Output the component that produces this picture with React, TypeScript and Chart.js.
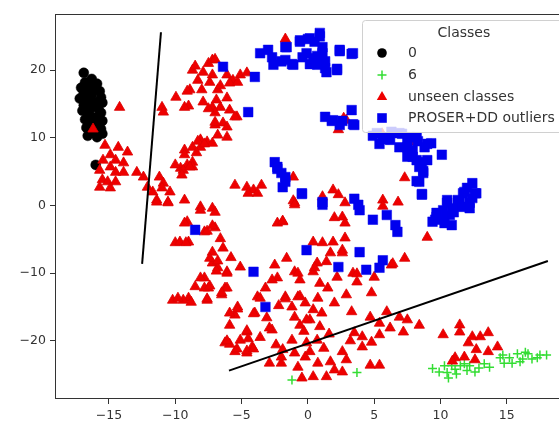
import React, { useEffect, useRef } from 'react';
import { Chart, registerables } from 'chart.js';

Chart.register(...registerables);

type P = [number, number];

const xTicks = [-15, -10, -5, 0, 5, 10, 15];
const yTicks = [-20, -10, 0, 10, 20];
const xRange: P = [-19.07, 19.97];
const yRange: P = [-28.6, 28.3];

const legendTitle = 'Classes';
const legendLabels = ['0', '6', 'unseen classes', 'PROSER+DD outliers'];

const class0Points: P[] = [
  [-16.9, 19.6], [-16.3, 18.7], [-16.8, 18.2], [-15.9, 18.0], [-17.1, 17.4], [-16.5, 17.6], [-16.0, 17.2],
  [-15.7, 16.9], [-16.9, 16.6], [-16.3, 16.4], [-15.6, 16.0], [-17.2, 15.8], [-16.6, 15.6], [-16.1, 15.3],
  [-15.5, 15.2], [-16.9, 14.8], [-16.3, 14.5], [-15.8, 14.3], [-17.0, 14.0], [-16.5, 13.6], [-15.6, 13.7],
  [-16.1, 13.0], [-16.8, 12.7], [-15.5, 12.5], [-16.4, 12.2], [-15.9, 11.8], [-16.7, 11.5], [-15.6, 11.3],
  [-16.2, 10.8], [-16.6, 10.3], [-15.9, 10.1], [-15.5, 10.6], [-16.0, 6.0],
];

const class6Points: P[] = [
  [-1.2, -25.8], [3.7, -24.7], [9.4, -24.1], [10.3, -23.7], [10.5, -24.7], [11.1, -24.2], [11.5, -23.7],
  [11.8, -23.4], [11.2, -24.9], [12.0, -24.4], [12.9, -24.0], [13.3, -23.4], [14.5, -22.5], [14.8, -23.3],
  [15.2, -22.5], [15.4, -23.3], [15.8, -21.9], [16.2, -22.7], [16.6, -21.9], [16.9, -22.7], [17.3, -22.5],
  [18.0, -22.1], [9.9, -24.6], [10.85, -23.7], [12.2, -23.7], [12.6, -24.6], [13.7, -23.9], [14.7, -22.1],
  [16.0, -23.1], [16.4, -21.7], [17.5, -22.1], [10.6, -25.5],
];

const unseenPoints: P[] = [
  [-14.2, 14.5], [-16.2, 11.3],
  [-11.0, 14.5], [-10.9, 13.8], [-9.95, 16.0], [-9.0, 14.7], [-8.9, 17.1], [-8.7, 20.0], [-8.3, 18.5],
  [-7.9, 19.7], [-7.5, 21.0], [-7.2, 21.5], [-8.0, 17.1], [-7.9, 15.3], [-7.4, 18.2], [-7.2, 19.3],
  [-6.8, 17.1], [-7.2, 14.5], [-6.9, 15.6], [-6.6, 14.5], [-7.0, 13.7], [-6.1, 15.9], [-5.9, 14.1],
  [-5.35, 13.1], [-6.4, 12.2], [-7.0, 11.9], [-6.1, 11.6], [-6.8, 10.4], [-6.1, 10.1], [-6.1, 19.3],
  [-5.65, 18.5], [-5.1, 19.3], [-4.6, 19.6], [-5.9, 18.1], [-8.5, 20.6], [-7.0, 21.6], [-5.3, 18.2],
  [-6.6, 17.7], [-7.5, 14.3], [-5.5, 13.1], [-7.0, 12.3], [-9.1, 16.9], [-9.3, 14.5],
  [-8.1, 9.7], [-8.7, 8.6], [-9.3, 8.2], [-9.3, 7.5], [-8.1, 8.6], [-7.6, 9.4], [-7.2, 9.2], [-8.4, 7.8],
  [-8.7, 6.4], [-9.1, 6.0], [-9.6, 5.5], [-10.0, 6.0], [-9.4, 5.2], [-9.5, 4.5], [-8.7, 5.7], [-8.3, 9.5],
  [-7.8, 9.1], [-8.9, 5.7],
  [-5.5, 3.0], [-4.6, 2.7], [-4.1, 2.3], [-3.5, 3.0], [-3.8, 1.8], [-4.5, 1.8],
  [-15.3, 8.9], [-14.3, 8.6], [-13.6, 7.9], [-14.9, 7.5], [-15.45, 6.7], [-14.5, 6.7], [-13.9, 6.3],
  [-15.7, 5.2], [-14.9, 5.7], [-14.5, 4.9], [-13.9, 4.9], [-15.5, 3.8], [-15.1, 3.5], [-15.7, 2.7],
  [-14.9, 2.6], [-14.5, 3.5], [-12.9, 4.9], [-12.4, 4.2], [-12.1, 2.7], [-11.7, 2.0], [-11.2, 4.2],
  [-10.9, 3.3], [-11.0, 2.6], [-10.4, 2.0], [-11.4, 0.8], [-10.55, 0.5], [-9.3, 0.8], [-8.1, -0.2], [-7.2, -0.4],
  [-1.7, 24.6], [2.3, 11.2], [2.9, 12.6], [2.7, 12.9], [8.1, 9.7], [7.3, 4.1], [-1.1, 4.2], [1.9, 2.3],
  [2.3, 1.6], [-1.0, 0.4], [5.65, 0.8], [6.8, 0.5], [-1.1, 0.7], [1.1, 1.3], [5.65, -0.1], [5.6, 10.6], [8.2, 9.4],
  [2.8, 0.4], [2.0, -1.8], [2.6, -1.7], [2.8, -2.6], [0.4, -5.4], [1.1, -5.5], [1.9, -5.4], [2.8, -4.8],
  [1.7, -7.0], [2.6, -6.6], [0.7, -8.5], [1.4, -8.3], [0.4, -9.8], [2.2, -10.6], [3.4, -10.0], [3.7, -11.3],
  [5.0, -10.6], [6.3, -8.8], [7.3, -7.8], [9.0, -4.7], [4.8, -12.9], [0.75, -13.7], [2.0, -14.4], [0.4, -15.4],
  [1.05, -15.9], [0.15, -16.9], [0.9, -17.9], [4.7, -16.5], [5.95, -15.7], [6.9, -16.5], [7.5, -16.9],
  [8.4, -17.7], [5.4, -17.4], [6.2, -18.1], [7.2, -18.7], [3.5, -18.8], [4.1, -19.4], [5.4, -19.1],
  [4.8, -20.2], [4.1, -20.9], [2.6, -21.6], [2.9, -22.8], [1.7, -23.1], [2.0, -24.3], [2.6, -24.6],
  [4.7, -23.6], [5.4, -23.6], [0.4, -25.3], [1.4, -25.3], [0.75, -23.3], [0.15, -21.6], [0.7, -19.9],
  [-8.1, -0.7], [-7.0, -1.0], [-9.1, -2.4], [-7.8, -3.9], [-7.0, -3.3], [-9.0, -5.4], [-7.2, -6.9],
  [-6.4, -6.3], [-7.2, -8.5], [-6.8, -9.2], [-6.1, -9.8], [-5.1, -9.1], [-7.8, -10.7], [-8.5, -12.0],
  [-7.5, -12.2], [-6.25, -12.2], [-9.0, -13.7], [-7.6, -14.0], [-6.5, -13.2], [-3.8, -13.5], [-5.3, -15.0],
  [-5.5, -16.2], [-4.0, -15.9], [-5.9, -17.7], [-4.6, -18.7], [-3.1, -16.6], [-2.7, -18.4], [-6.25, -20.3],
  [-5.1, -19.9], [-4.6, -21.8], [-4.2, -20.9], [-5.5, -21.6], [-2.9, -23.3], [-2.0, -23.3], [-2.5, -8.8],
  [-1.0, -9.8], [-2.3, -10.7], [-2.7, -11.0], [-0.6, -11.0], [-1.7, -13.5], [-0.75, -13.5], [-1.2, -15.0],
  [-0.2, -14.4], [-1.0, -16.5], [-0.1, -16.9], [-0.6, -17.7], [-1.2, -19.9], [-0.1, -20.3], [-1.9, -21.3],
  [-1.0, -21.8], [-0.2, -22.4], [-0.75, -23.9], [-2.0, -22.4], [-0.45, -25.5], [-1.0, 0.1], [-2.3, -2.6], [-1.9, -2.4],
  [-11.4, 0.5], [-10.55, 0.4], [-9.3, -2.6], [-10.0, -5.5], [-9.65, -5.4], [-9.2, -5.5], [-10.2, -14.0],
  [-9.4, -14.0], [-9.8, -13.7], [-8.8, -14.3],
  [-7.6, -3.8], [-7.2, -3.0], [-7.4, -7.8], [-6.8, -8.2], [-6.9, -9.7], [-6.1, -10.0], [-8.1, -10.7],
  [-7.8, -12.2], [-7.4, -11.9], [-6.1, -12.2], [-7.6, -13.8], [-6.5, -12.9], [-5.3, -15.3], [-5.9, -15.9],
  [-4.1, -16.0], [-4.6, -18.5], [-4.5, -19.7], [-5.9, -20.5], [-6.1, -20.0], [-5.35, -21.2], [-4.6, -21.5],
  [-3.6, -13.7], [-2.9, -18.1], [-4.1, -21.2],
  [-1.9, -2.3], [-0.75, -10.0], [0.5, -9.2], [-0.6, -13.4], [-1.7, -13.8], [2.6, -7.0], [6.4, -8.6], [3.7, -10.1],
  [-3.2, -12.2], [-2.2, -14.8], [-3.6, -19.5], [-2.4, -20.6], [1.5, -12.2], [2.9, -13.2], [1.6, -19.0],
  [3.2, -20.0], [1.2, -21.1], [-0.3, -18.6], [3.3, -15.7], [-1.6, -7.8], [0.9, -11.5], [-6.6, -4.9], [-5.8, -7.7],
  [11.45, -17.65], [11.45, -18.7], [10.2, -19.1], [12.4, -19.4], [13.0, -19.4], [13.6, -18.8], [12.1, -20.3],
  [12.7, -21.3], [13.6, -21.6], [14.3, -20.9], [11.1, -22.5], [11.8, -22.4], [12.6, -22.8], [10.9, -23.0],
];

const outlierPoints: P[] = [
  [-6.4, 20.5], [-4.0, 19.0], [-4.5, 13.8], [-3.6, 22.5], [-3.0, 23.0], [-2.6, 20.8], [-2.3, 5.7],
  [-2.7, 21.9], [-2.0, 21.3], [-1.7, 23.4], [-1.2, 20.9], [-0.6, 24.2], [-0.4, 21.9], [0.0, 24.6], [0.15, 20.9],
  [-2.5, 6.4], [-2.3, 5.4], [-1.7, 4.2], [-1.9, 2.7], [-0.45, 1.7],
  [-1.6, 23.4], [-0.6, 24.4], [0.15, 24.7], [0.9, 25.5], [-0.1, 22.5], [0.4, 21.8], [1.1, 22.5], [1.3, 20.3],
  [2.2, 20.0], [2.4, 23.0], [3.4, 22.5], [-1.7, 21.5], [-1.1, 20.8], [0.7, 20.8],
  [0.9, 25.0], [0.5, 24.2], [1.1, 23.4], [0.7, 22.1], [1.3, 21.3], [1.4, 19.7], [2.2, 20.2], [2.4, 22.8], [3.3, 22.4],
  [1.3, 13.1], [1.9, 12.6], [2.4, 11.9], [3.3, 14.1], [3.5, 11.9], [5.2, 10.7], [5.65, 10.1], [6.2, 9.7],
  [6.9, 10.7], [7.5, 9.7], [8.2, 10.1], [7.9, 8.2], [8.8, 8.6], [7.5, 7.2], [8.2, 6.7], [8.4, 5.7], [8.7, 4.8],
  [9.0, 6.7], [10.1, 7.5], [8.4, 3.5], [8.6, 1.6], [-2.0, 4.8], [-1.7, 3.5], [-0.45, 1.8],
  [1.8, 12.5], [2.6, 12.5], [3.4, 12.0], [4.9, 10.3], [5.4, 9.1], [5.8, 9.8], [6.3, 10.9], [7.1, 10.6],
  [7.7, 10.1], [6.9, 8.6], [7.5, 8.6], [8.3, 9.5], [9.0, 9.1], [7.9, 7.2], [8.6, 6.4], [8.7, 5.1], [8.2, 3.6],
  [8.6, 1.7], [1.1, 0.5], [3.5, 1.0],
  [11.7, 1.8], [12.4, 3.3], [12.6, 1.8], [12.2, 0.4], [11.45, 0.5], [10.9, -0.4], [10.5, 0.4], [9.3, 9.2],
  [11.8, 2.0], [11.3, 0.8], [12.4, 1.1], [12.7, 1.8], [12.2, -0.4], [10.5, 0.8], [10.2, -0.7], [9.7, -1.7],
  [10.7, -1.4], [10.3, -2.6], [10.85, -2.9], [9.4, -2.4], [10.2, -1.6], [11.0, -1.0], [11.6, -0.2], [12.0, 2.6],
  [1.1, 0.1], [3.8, 0.1], [3.9, -0.7], [4.9, -2.1], [5.95, -1.4], [6.6, -2.9], [6.75, -3.9], [9.6, -2.1],
  [9.7, -1.1], [3.9, -6.9], [2.3, -9.1], [4.4, -9.5], [5.4, -9.2], [5.65, -8.1], [-8.5, -3.6], [-4.1, -9.8],
  [-3.2, -15.0], [-0.1, -6.6],
];

const boundaryLineA: P[] = [[-11.08, 25.6], [-12.5, -8.64]];
const boundaryLineB: P[] = [[-5.95, -24.4], [18.1, -8.2]];

const toXY = (pts: P[]) => pts.map(([x, y]) => ({ x, y }));
const fmt = (v: number) => (v < 0 ? '\u2212' + Math.abs(v) : String(v));

const FONT = '"DejaVu Sans", sans-serif';

function drawMarker(ctx: CanvasRenderingContext2D, kind: string, x: number, y: number, color: string) {
  ctx.save();
  ctx.fillStyle = color;
  ctx.strokeStyle = color;
  ctx.beginPath();
  if (kind === 'circle') {
    ctx.arc(x, y, 4.8, 0, Math.PI * 2);
    ctx.fill();
  } else if (kind === 'cross') {
    ctx.lineWidth = 1.5;
    ctx.moveTo(x - 4.5, y); ctx.lineTo(x + 4.5, y);
    ctx.moveTo(x, y - 4.5); ctx.lineTo(x, y + 4.5);
    ctx.stroke();
  } else if (kind === 'triangle') {
    const r = 6;
    ctx.moveTo(x, y - r);
    ctx.lineTo(x + r * Math.sin((2 * Math.PI) / 3), y - r * Math.cos((2 * Math.PI) / 3));
    ctx.lineTo(x + r * Math.sin((4 * Math.PI) / 3), y - r * Math.cos((4 * Math.PI) / 3));
    ctx.closePath();
    ctx.fill();
  } else {
    ctx.rect(x - 4.8, y - 4.8, 9.6, 9.6);
    ctx.fill();
  }
  ctx.restore();
}

const framePlugin = {
  id: 'frameAndLegend',
  afterDatasetsDraw(chart: any) {
    const { ctx, chartArea } = chart;
    const { left, top, right, bottom } = chartArea;
    ctx.save();
    ctx.strokeStyle = '#333';
    ctx.lineWidth = 1;
    ctx.strokeRect(left + 0.5, top + 0.5, right - left - 1, bottom - top - 1);

    const bx0 = 362;
    const by0 = top + 6;
    const bx1 = right - 7;
    const by1 = top + 118;
    ctx.beginPath();
    (ctx as any).roundRect(bx0 + 0.5, by0 + 0.5, bx1 - bx0, by1 - by0, 3);
    ctx.fillStyle = 'rgba(255,255,255,0.8)';
    ctx.fill();
    ctx.strokeStyle = '#d0d0d0';
    ctx.stroke();

    ctx.fillStyle = '#333';
    ctx.font = `14px ${FONT}`;
    ctx.textBaseline = 'middle';
    ctx.textAlign = 'center';
    ctx.fillText(legendTitle, (bx0 + bx1) / 2, by0 + 13);
    ctx.textAlign = 'left';
    const kinds = ['circle', 'cross', 'triangle', 'rect'];
    const colors = ['#000000', '#33dd33', '#ee0000', '#0000ee'];
    const rowY = [by0 + 33, by0 + 55, by0 + 77, by0 + 98];
    legendLabels.forEach((lab, i) => {
      drawMarker(ctx, kinds[i], bx0 + 20, rowY[i], colors[i]);
      ctx.fillStyle = '#333';
      ctx.fillText(lab, bx0 + 46, rowY[i]);
    });
    ctx.restore();
  },
};

export default function App() {
  const canvasRef = useRef<HTMLCanvasElement | null>(null);

  useEffect(() => {
    if (!canvasRef.current) return;
    const chart = new Chart(canvasRef.current, {
      type: 'scatter',
      data: {
        datasets: [
          {
            type: 'line',
            data: toXY(boundaryLineA),
            borderColor: '#000',
            borderWidth: 2,
            pointRadius: 0,
            showLine: true,
            order: 0,
          } as any,
          {
            type: 'line',
            data: toXY(boundaryLineB),
            borderColor: '#000',
            borderWidth: 2,
            pointRadius: 0,
            showLine: true,
            order: 0,
          } as any,
          {
            label: legendLabels[3],
            data: toXY(outlierPoints),
            pointStyle: 'rect',
            pointRadius: 6.8,
            backgroundColor: '#0000ee',
            borderColor: '#0000ee',
            borderWidth: 0.5,
            order: 1,
          },
          {
            label: legendLabels[2],
            data: toXY(unseenPoints),
            pointStyle: 'triangle',
            pointRadius: 6,
            backgroundColor: '#ee0000',
            borderColor: '#dd0000',
            borderWidth: 0.8,
            order: 2,
          },
          {
            label: legendLabels[1],
            data: toXY(class6Points),
            pointStyle: 'cross',
            pointRadius: 4.5,
            borderColor: '#33dd33',
            backgroundColor: '#33dd33',
            borderWidth: 1.5,
            order: 3,
          },
          {
            label: legendLabels[0],
            data: toXY(class0Points),
            pointStyle: 'circle',
            pointRadius: 5,
            backgroundColor: '#000',
            borderColor: '#000',
            borderWidth: 0.5,
            order: 4,
          },
        ],
      },
      options: {
        animation: false,
        responsive: false,
        events: [],
        layout: { padding: { top: 14, right: 7, left: 0, bottom: 0 } },
        plugins: { legend: { display: false }, tooltip: { enabled: false } },
        scales: {
          x: {
            type: 'linear',
            min: xRange[0],
            max: xRange[1],
            afterBuildTicks: (s: any) => { s.ticks = xTicks.map((v) => ({ value: v })); },
            afterFit: (s: any) => { s.height = 23; },
            grid: { display: true, drawOnChartArea: false, drawTicks: true, tickLength: 5, color: '#333' },
            border: { display: false },
            ticks: {
              padding: 4,
              maxRotation: 0,
              autoSkip: false,
              color: '#333',
              font: { family: FONT, size: 12.5 },
              callback: (v: any) => fmt(Number(v)),
            },
          },
          y: {
            type: 'linear',
            min: yRange[0],
            max: yRange[1],
            afterBuildTicks: (s: any) => { s.ticks = yTicks.map((v) => ({ value: v })); },
            afterFit: (s: any) => { s.width = 55; },
            grid: { display: true, drawOnChartArea: false, drawTicks: true, tickLength: 5, color: '#333' },
            border: { display: false },
            ticks: {
              padding: 4,
              autoSkip: false,
              color: '#333',
              font: { family: FONT, size: 12.5 },
              callback: (v: any) => fmt(Number(v)),
            },
          },
        },
      },
      plugins: [framePlugin],
    });
    return () => chart.destroy();
  }, []);

  return (
    <div
      style={{
        position: 'fixed',
        left: 0,
        top: 0,
        width: 559,
        height: 422,
        overflow: 'hidden',
        background: '#fff',
      }}
    >
      <canvas ref={canvasRef} width={580} height={422} style={{ display: 'block', width: 580, height: 422 }} />
    </div>
  );
}
